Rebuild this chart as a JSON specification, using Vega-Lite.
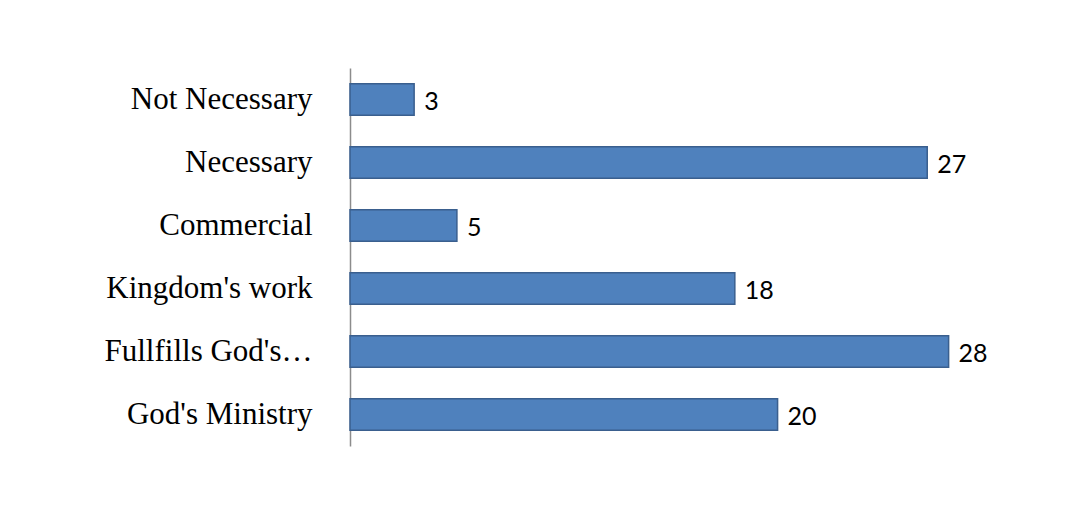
{
  "$schema": "https://vega.github.io/schema/vega-lite/v6.json",
  "width": 620,
  "height": 378,
  "autosize": {"type": "none"},
  "padding": {"left": 350, "top": 68, "right": 110, "bottom": 81},
  "background": "white",
  "data": {"values": [
    {"category": "Not Necessary", "count": 3},
    {"category": "Necessary", "count": 27},
    {"category": "Commercial", "count": 5},
    {"category": "Kingdom's work", "count": 18},
    {"category": "Fullfills God's…", "count": 28},
    {"category": "God's Ministry", "count": 20}
  ]},
  "encoding": {
    "y": {
      "field": "category", "type": "nominal", "sort": null,
      "scale": {"paddingInner": 0.5, "paddingOuter": 0.25},
      "axis": {
        "title": null, "ticks": false, "labelPadding": 38,
        "labelFont": "Liberation Serif", "labelFontSize": 31, "labelColor": "#000000",
        "labelLimit": 400, "domainColor": "#8c8c8c", "domainWidth": 1.5
      }
    },
    "x": {
      "field": "count", "type": "quantitative",
      "scale": {"domain": [0, 29]},
      "axis": null
    }
  },
  "layer": [
    {"mark": {"type": "bar", "color": "#4F81BD", "stroke": "#3A5F8E", "strokeWidth": 1.5}},
    {"mark": {"type": "text", "align": "left", "dx": 10, "dy": 2, "font": "Lato", "fontSize": 25, "color": "#000000"},
     "encoding": {"text": {"field": "count", "type": "quantitative"}}}
  ],
  "config": {"view": {"stroke": null}}
}
